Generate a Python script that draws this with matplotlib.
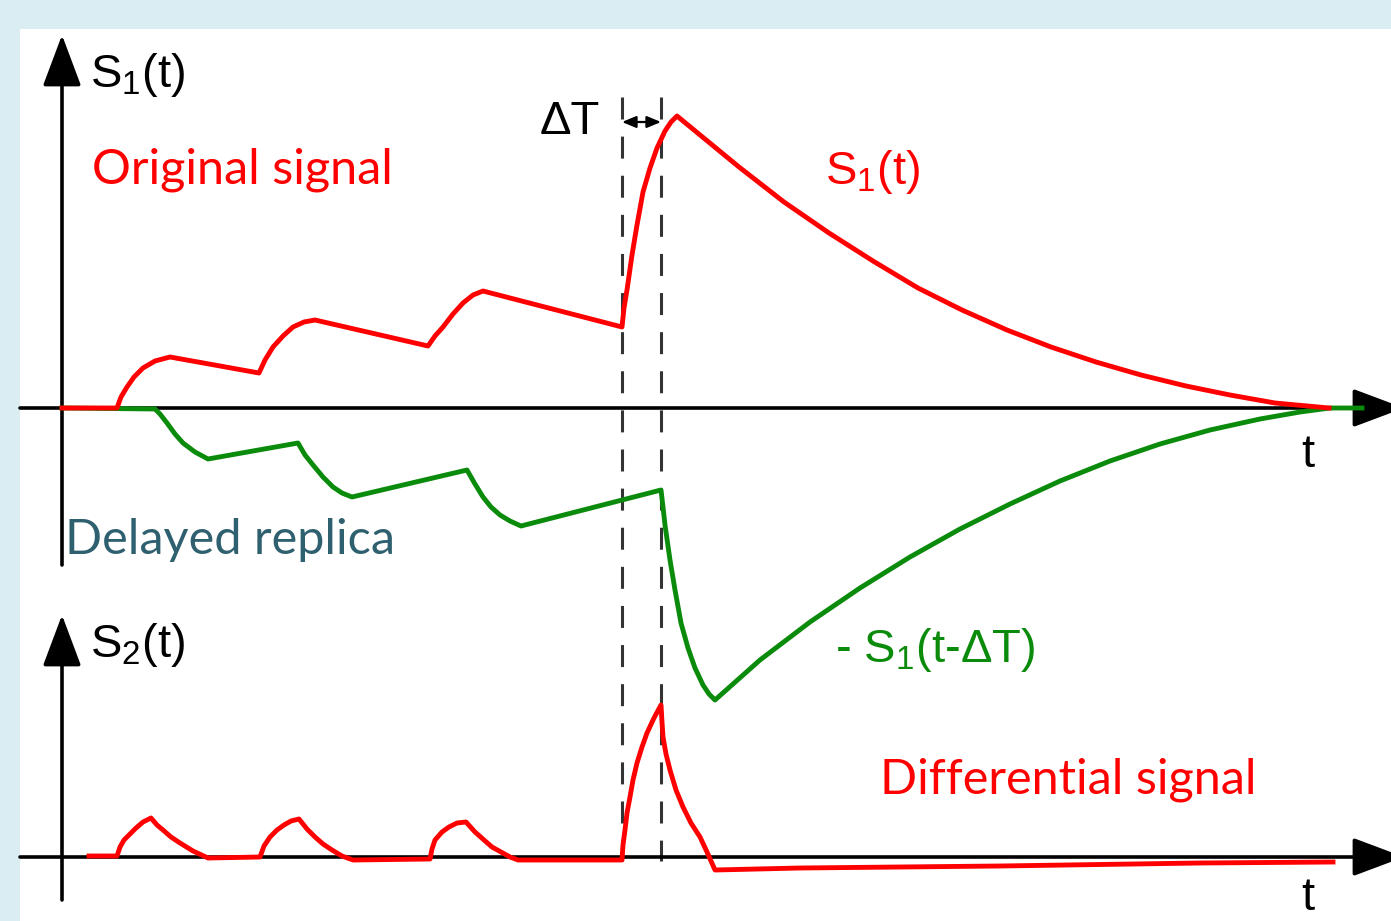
import matplotlib
matplotlib.use("Agg")
import matplotlib.pyplot as plt
from matplotlib.patches import Rectangle

plt.rcParams['mathtext.fontset'] = 'custom'
plt.rcParams['mathtext.rm'] = 'Liberation Sans'

# Original signal S1(t) (time units, amplitude units)
t_s1 = [0, 5.5, 5.9, 6.5, 7.2, 8.1, 9.3, 10.8,
        19.7, 20.3, 21.1, 22.1, 23.1, 24.2, 25.3,
        36.6, 37.3, 38.1, 39.1, 40.1, 41.1, 42.1,
        56.0, 56.2, 56.5, 57.0, 57.5, 58.1, 58.8, 59.5, 60.3, 60.9, 61.5,
        67.7, 72.2, 76.7, 81.1, 85.6, 90.0, 94.5, 98.9, 103.4, 107.9, 112.4, 116.8, 121.3, 126.7]
s1 = [0, 0, 1.1, 2.1, 3.1, 4.0, 4.7, 5.1,
      3.5, 4.8, 6.1, 7.2, 8.1, 8.6, 8.8,
      6.2, 7.2, 8.1, 9.4, 10.5, 11.3, 11.7,
      8.1, 10.0, 11.8, 15.3, 18.3, 21.6, 24.0, 26.0, 27.7, 28.6, 29.2,
      24.1, 20.6, 17.5, 14.7, 12.0, 9.8, 7.8, 6.1, 4.6, 3.3, 2.2, 1.3, 0.5, 0.0]

# Delayed, inverted replica -S1(t - dT)
t_rep = [0, 9.3, 9.8, 10.5, 11.3, 12.1, 13.3, 14.6,
         23.6, 24.3, 25.1, 26.1, 27.1, 28.0, 29.0,
         40.5, 41.3, 42.1, 42.9, 43.8, 44.8, 45.9,
         59.9, 60.1, 60.3, 60.8, 61.3, 61.9, 62.6, 63.3, 64.1, 64.7, 65.3,
         69.8, 74.8, 79.8, 84.8, 89.8, 94.8, 99.8, 104.8, 109.8, 114.8, 119.8, 123.8, 126.8, 130.0]
rep = [0, -0.1, -0.6, -1.5, -2.6, -3.5, -4.4, -5.1,
       -3.5, -4.7, -5.7, -6.9, -7.9, -8.5, -8.9,
       -6.2, -7.6, -8.9, -9.9, -10.7, -11.3, -11.8,
       -8.2, -9.9, -11.7, -15.2, -18.2, -21.5, -24.0, -26.0, -27.7, -28.6, -29.2,
       -25.2, -21.4, -18.0, -14.9, -12.1, -9.6, -7.3, -5.3, -3.6, -2.2, -1.1, -0.4, 0.0, 0.0]

# Differential signal S2(t)
t_s2 = [2.7, 5.5, 5.8, 6.2, 6.7, 7.4, 8.1, 8.9, 9.5, 10.1, 10.9, 11.8, 13.1, 14.6,
        19.8, 20.2, 20.8, 21.5, 22.2, 22.9, 23.7, 24.5, 25.3, 26.1, 27.0, 28.0, 29.1,
        36.8, 37.0, 37.3, 38.0, 38.7, 39.5, 40.4, 41.3, 42.2, 43.0, 43.9, 44.8, 45.6,
        56.0, 56.1, 56.3, 56.5, 56.8, 57.1, 57.5, 58.0, 58.5, 59.2, 59.9,
        60.0, 60.1, 60.4, 60.8, 61.4, 62.1, 62.9, 63.8, 64.5, 65.3,
        73.8, 93.8, 113.8, 127.1]
s2 = [0.1, 0.1, 1.0, 1.7, 2.2, 2.9, 3.5, 3.9, 3.2, 2.7, 2.0, 1.4, 0.6, -0.1,
      0.0, 1.1, 2.0, 2.7, 3.2, 3.6, 3.8, 2.8, 2.0, 1.3, 0.7, 0.1, -0.3,
      -0.2, 0.8, 1.7, 2.5, 3.0, 3.4, 3.5, 2.5, 1.7, 1.0, 0.5, 0.0, -0.3,
      -0.3, 1.2, 2.7, 4.4, 6.0, 7.7, 9.4, 11.0, 12.4, 13.9, 15.2,
      13.5, 12.0, 10.3, 8.7, 6.7, 5.0, 3.4, 2.0, 0.5, -1.3,
      -1.1, -0.9, -0.6, -0.5]

t_cross = 56.0   # start of the last rise
delta_t = 3.9

RED = '#FF0000'
GREEN = '#0B8B0B'
TEAL = '#2E6070'

fig = plt.figure(figsize=(13.91, 9.21), dpi=100, facecolor='#DAEDF3')
fig.add_artist(Rectangle((20 / 1391, 0), 1, (921 - 29) / 921, transform=fig.transFigure,
                         facecolor='white', edgecolor='none', zorder=0))

ax1 = fig.add_axes([0, 0, 1, 1])
ax2 = fig.add_axes([0, 0, 1, 1])
for ax in (ax1, ax2):
    ax.set_xlim(-6.2, 132.9)
    ax.axis('off')
    ax.patch.set_visible(False)
ax1.set_ylim(-51.3, 40.8)
ax2.set_ylim(-6.4, 85.7)

def axis_arrow(ax, start, end):
    ax.annotate('', xy=end, xytext=start, annotation_clip=False,
                arrowprops=dict(arrowstyle='-|>,head_length=1.6,head_width=0.6',
                                mutation_scale=20, lw=2.6, color='black',
                                shrinkA=0, shrinkB=0), zorder=2)

# axes with arrows
axis_arrow(ax1, (0, -15.7), (0, 37.3))
axis_arrow(ax1, (-4.2, 0), (134.2, 0))
axis_arrow(ax2, (0, -4.3), (0, 24.2))
axis_arrow(ax2, (-4.2, 0), (134.2, 0))

# dashed delay markers
for x in (t_cross, t_cross + delta_t):
    ax1.plot([x, x], [31.1, -45.3], color='#333333', lw=2.2,
             linestyle=(0, (7.2, 5.6)), zorder=1)
ax1.annotate('', xy=(t_cross + delta_t, 28.6), xytext=(t_cross, 28.6),
             arrowprops=dict(arrowstyle='<|-|>,head_length=0.6,head_width=0.25',
                             mutation_scale=14, lw=1.6, color='black',
                             shrinkA=0, shrinkB=0))

# signals
ax1.plot(t_s1, s1, color=RED, lw=3.5, zorder=4)
ax1.plot(t_rep, rep, color=GREEN, lw=3.5, zorder=3)
ax2.plot(t_s2, s2, color=RED, lw=3.5, zorder=4)

# labels
sans = 'Liberation Sans'
calib = 'Lato'
ax1.text(2.8, 33.3, r'S$_\mathregular{1}$(t)', fontsize=34, family=sans, va='center', ha='left')
ax1.text(3.0, 23.8, 'Original signal', fontsize=35, family=calib, color=RED, va='center', ha='left')
ax1.text(53.8, 28.6, 'ΔT', fontsize=34, family=sans, va='center', ha='right')
ax1.text(76.3, 23.6, r'S$_\mathregular{1}$(t)', fontsize=34, family=sans, color=RED, va='center', ha='left')
ax1.text(124.6, -4.7, 't', fontsize=34, family=sans, va='center', ha='center')
ax1.text(0.3, -13.2, 'Delayed replica', fontsize=35, family=calib, color=TEAL, va='center', ha='left')
ax1.text(77.3, -24.2, r'- S$_\mathregular{1}$(t-ΔT)', fontsize=34, family=sans, color=GREEN,
         va='center', ha='left')
ax2.text(2.8, 21.2, r'S$_\mathregular{2}$(t)', fontsize=34, family=sans, va='center', ha='left')
ax2.text(81.8, 7.7, 'Differential signal', fontsize=35, family=calib, color=RED, va='center', ha='left')
ax2.text(124.6, -4.1, 't', fontsize=34, family=sans, va='center', ha='center')

fig.savefig('out.png', dpi=100, facecolor=fig.get_facecolor())
